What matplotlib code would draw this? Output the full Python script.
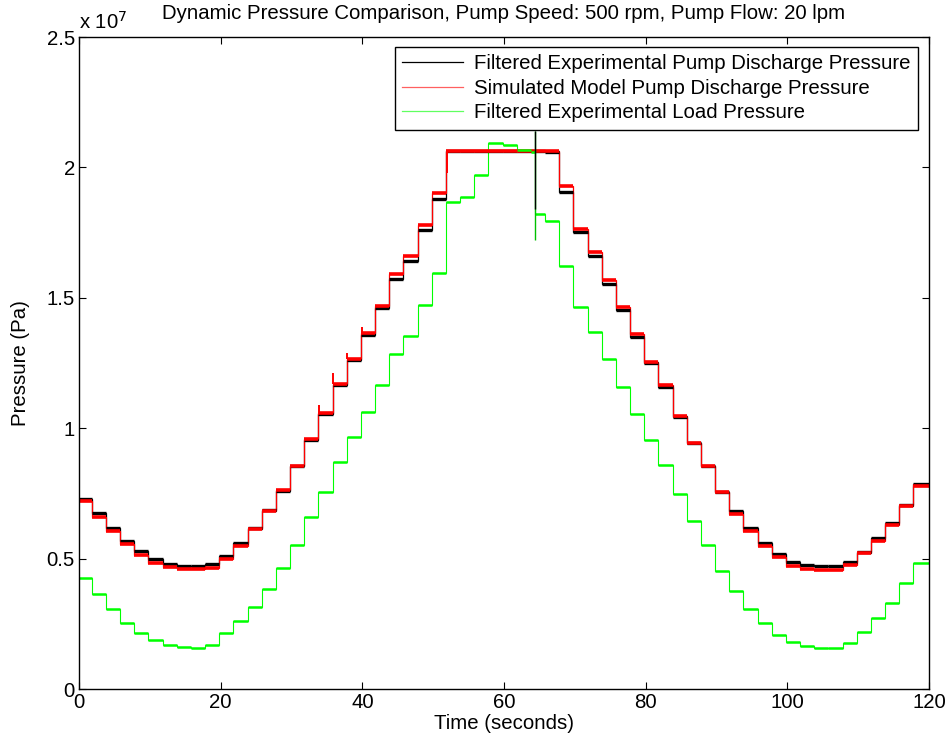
import matplotlib
matplotlib.use("Agg")
import matplotlib.pyplot as plt
import numpy as np
from matplotlib.lines import Line2D

plt.rcParams['font.family'] = ['Liberation Sans', 'DejaVu Sans']

# Step boundaries (seconds)
time_edges = [0, 1.8, 3.8, 5.8, 7.8, 9.8, 11.8, 13.8, 15.8, 17.8, 19.8,
              21.8, 23.8, 25.8, 27.8, 29.8, 31.8, 33.8, 35.8, 37.8, 39.8,
              41.8, 43.8, 45.8, 47.8, 49.8, 51.8, 53.8, 55.8, 57.8, 59.8,
              61.8, 63.8, 65.8, 67.8, 69.8, 71.8, 73.8, 75.8, 77.8, 79.8,
              81.8, 83.8, 85.8, 87.8, 89.8, 91.8, 93.8, 95.8, 97.8, 99.8,
              101.8, 103.8, 105.8, 107.8, 109.8, 111.8, 113.8, 115.8, 117.8, 120]

# Filtered experimental pump discharge pressure (x 1e7 Pa)
exp_discharge = [0.727, 0.674, 0.616, 0.567, 0.529, 0.498, 0.479, 0.472, 0.472, 0.478,
                 0.510, 0.560, 0.618, 0.686, 0.760, 0.855, 0.955, 1.054, 1.165, 1.260,
                 1.357, 1.460, 1.571, 1.642, 1.760, 1.880, 2.063, 2.065, 2.063, 2.062,
                 2.063, 2.064, 2.062, 2.060, 1.905, 1.754, 1.660, 1.552, 1.453, 1.349,
                 1.249, 1.159, 1.044, 0.942, 0.855, 0.757, 0.684, 0.616, 0.561, 0.518,
                 0.488, 0.475, 0.472, 0.473, 0.488, 0.527, 0.578, 0.635, 0.706, 0.786]

# Simulated model pump discharge pressure (x 1e7 Pa)
sim_discharge = [0.720, 0.660, 0.607, 0.556, 0.514, 0.484, 0.467, 0.460, 0.460, 0.464,
                 0.500, 0.548, 0.612, 0.684, 0.762, 0.857, 0.958, 1.058, 1.170, 1.266,
                 1.366, 1.470, 1.591, 1.660, 1.779, 1.903, 2.062, 2.062, 2.062, 2.062,
                 2.062, 2.062, 2.062, 2.062, 1.930, 1.766, 1.677, 1.568, 1.464, 1.360,
                 1.255, 1.166, 1.048, 0.945, 0.857, 0.755, 0.673, 0.607, 0.549, 0.505,
                 0.473, 0.459, 0.456, 0.456, 0.476, 0.520, 0.569, 0.628, 0.700, 0.778]

# Start-of-step overshoot peaks of the simulated trace on the steep rises (x 1e7 Pa)
overshoot_times = [33.8, 35.8, 37.8, 39.8, 51.8]
overshoot_peaks = [1.09, 1.21, 1.29, 1.39, 1.98]

# Filtered experimental load pressure: its own boundaries (drop at 64.4 s)
load_edges = [0, 1.8, 3.8, 5.8, 7.8, 9.8, 11.8, 13.8, 15.8, 17.8, 19.8,
              21.8, 23.8, 25.8, 27.8, 29.8, 31.8, 33.8, 35.8, 37.8, 39.8,
              41.8, 43.8, 45.8, 47.8, 49.8, 51.8, 53.8, 55.8, 57.8, 59.8,
              61.8, 63.8, 64.4, 65.8, 67.8, 69.8, 71.8, 73.8, 75.8, 77.8, 79.8,
              81.8, 83.8, 85.8, 87.8, 89.8, 91.8, 93.8, 95.8, 97.8, 99.8,
              101.8, 103.8, 105.8, 107.8, 109.8, 111.8, 113.8, 115.8, 117.8, 120]
exp_load = [0.424, 0.364, 0.306, 0.254, 0.216, 0.188, 0.169, 0.160, 0.156, 0.169,
            0.213, 0.262, 0.316, 0.383, 0.463, 0.552, 0.658, 0.757, 0.872, 0.967,
            1.063, 1.166, 1.284, 1.352, 1.472, 1.596, 1.869, 1.888, 1.971, 2.092,
            2.086, 2.067, 2.060, 1.820, 1.795, 1.622, 1.466, 1.370, 1.264, 1.159,
            1.054, 0.955, 0.859, 0.748, 0.645, 0.552, 0.454, 0.377, 0.307, 0.254,
            0.207, 0.181, 0.165, 0.156, 0.158, 0.178, 0.220, 0.271, 0.331, 0.405,
            0.482]

# Start-up transients at t = 0 and the spike at 64.4 s (x 1e7 Pa)
startup_time = 0.05
startup_top = {'exp': 0.95, 'sim': 0.87, 'load': 0.49}
spike_time = 64.4
spike_exp = (1.84, 2.14)
spike_load = (1.72, 2.14)

SCALE = 1e7
x_ticks = [0, 20, 40, 60, 80, 100, 120]
y_ticks = [0, 0.5, 1, 1.5, 2, 2.5]
y_ticklabels = ['0', '0.5', '1', '1.5', '2', '2.5']
labels = ['Filtered Experimental Pump Discharge Pressure',
          'Simulated Model Pump Discharge Pressure',
          'Filtered Experimental Load Pressure']

FS = 14.7
fig = plt.figure(figsize=(9.48, 7.42), dpi=100)
ax = fig.add_axes([0.0833, 0.0714, 0.8967, 0.8786])

def draw(edges, levels, color, thick, thin, start_top):
    e = np.asarray(edges)
    v = np.asarray(levels) * SCALE
    ax.stairs(v, e, color=color, lw=thin, baseline=None)
    ax.hlines(v, e[:-1], e[1:], color=color, lw=thick)
    ax.vlines(startup_time, 0, start_top * SCALE, color=color, lw=1.2)

draw(time_edges, exp_discharge, 'black', 2.4, 0.9, startup_top['exp'])
draw(time_edges, sim_discharge, '#ff0000', 2.6, 0.9, startup_top['sim'])
# overshoots of the simulated trace
for t, p in zip(overshoot_times, overshoot_peaks):
    i = time_edges.index(t)
    ax.vlines(t + 0.1, sim_discharge[i] * SCALE, p * SCALE, color='#ff0000', lw=1.4)
draw(load_edges, exp_load, '#00ff00', 1.8, 0.8, startup_top['load'])
ax.vlines(spike_time, spike_load[0] * SCALE, spike_load[1] * SCALE, color='#00c000', lw=1.0)
ax.vlines(spike_time, spike_exp[0] * SCALE, spike_exp[1] * SCALE, color='black', lw=1.0)

ax.set_xlim(0, 120)
ax.set_ylim(0, 2.5e7)
ax.set_xticks(x_ticks)
ax.set_xticklabels([str(t) for t in x_ticks])
ax.set_yticks([v * SCALE for v in y_ticks])
ax.set_yticklabels(y_ticklabels)
ax.tick_params(direction='in', top=True, right=True, length=5, width=0.8,
               labelsize=FS, pad=3)
for s in ax.spines.values():
    s.set_linewidth(1.0)

ax.set_xlabel('Time (seconds)', fontsize=FS, labelpad=1)
ax.set_ylabel('Pressure (Pa)', fontsize=FS, labelpad=12)
ax.set_title('Dynamic Pressure Comparison, Pump Speed: 500 rpm, Pump Flow: 20 lpm',
             fontsize=FS, pad=13)
ax.text(0.0, 1.006, r'x 10$^{7}$', transform=ax.transAxes, fontsize=FS,
        ha='left', va='bottom')

handles = [Line2D([], [], color='black', lw=0.9),
           Line2D([], [], color='#ff6060', lw=0.9),
           Line2D([], [], color='#60ff60', lw=0.9)]
leg = ax.legend(handles, labels,
                loc='upper right', bbox_to_anchor=(0.987, 0.985), fontsize=FS,
                frameon=True, fancybox=False, framealpha=1, edgecolor='black',
                handlelength=3.0, borderpad=0.35, labelspacing=0.28, handletextpad=0.55,
                borderaxespad=0)
leg.get_frame().set_linewidth(1.0)

fig.savefig('out.png', dpi=100)
